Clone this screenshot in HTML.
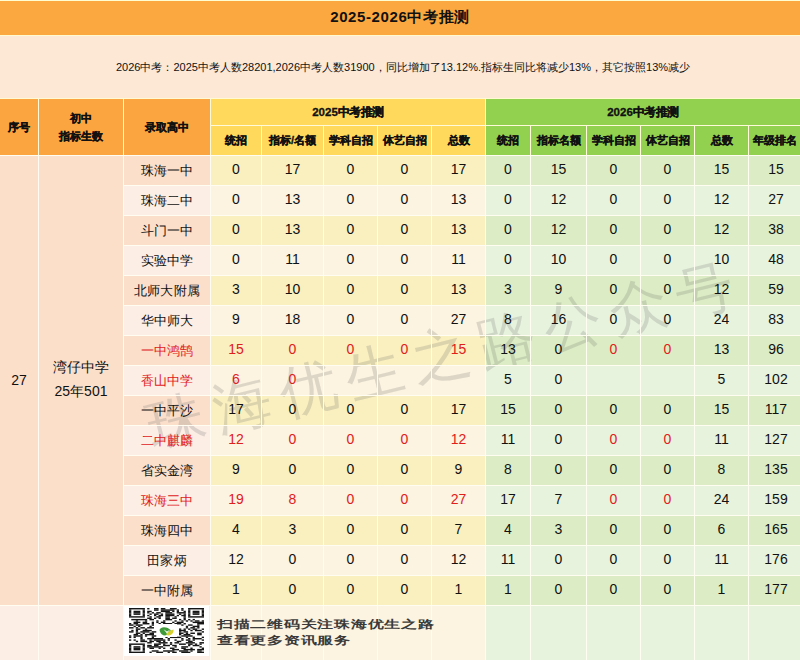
<!DOCTYPE html>
<html><head><meta charset="utf-8"><style>
html,body{margin:0;padding:0;}
body{width:800px;height:660px;position:relative;overflow:hidden;background:#FFFCF2;font-family:"Liberation Sans",sans-serif;color:#111;}
.b{position:absolute;}
.t{position:absolute;text-align:center;white-space:nowrap;z-index:3;}
.c{display:inline-block;width:1em;text-align:center;letter-spacing:0;}
.qrt .c{width:11.55px;text-align:left;}
.wm .c{width:68px;}
.title .c{width:15.6px;text-align:left;}
.ln{position:absolute;background:#FFFCF2;z-index:2;}
.title{font-size:15px;font-weight:bold;letter-spacing:0.6px;}
.subt{font-size:11px;line-height:22px;}
.h{font-size:11px;font-weight:bold;-webkit-text-stroke:0.3px #111;}
.d{font-size:14px;}
.qrt{font-size:11px;font-weight:bold;letter-spacing:0;color:#3a3a3a;transform:scaleX(1.45);transform-origin:0 0;}
.wm{position:absolute;left:440px;top:356px;font-size:58px;line-height:58px;letter-spacing:0;color:rgba(90,90,90,0.19);font-weight:500;z-index:1;white-space:nowrap;transform:translate(-50%,-50%) rotate(-13.9deg);}
</style></head><body>
<div class="b" style="left:0px;top:1px;width:800px;height:34px;background:#FBA840;"></div>
<div class="t title" style="left:0px;top:0px;width:800px;height:34px;line-height:34px;">2025-2026<span class="c">中</span><span class="c">考</span><span class="c">推</span><span class="c">测</span></div>
<div class="b" style="left:0px;top:36px;width:800px;height:62px;background:#FCE8D5;"></div>
<div class="t subt" style="left:3px;top:56px;width:800px;height:22px;line-height:22px;">2026<span class="c">中</span><span class="c">考</span><span class="c">：</span>2025<span class="c">中</span><span class="c">考</span><span class="c">人</span><span class="c">数</span>28201,2026<span class="c">中</span><span class="c">考</span><span class="c">人</span><span class="c">数</span>31900<span class="c">，</span><span class="c">同</span><span class="c">比</span><span class="c">增</span><span class="c">加</span><span class="c">了</span>13.12%.<span class="c">指</span><span class="c">标</span><span class="c">生</span><span class="c">同</span><span class="c">比</span><span class="c">将</span><span class="c">减</span><span class="c">少</span>13%<span class="c">，</span><span class="c">其</span><span class="c">它</span><span class="c">按</span><span class="c">照</span>13%<span class="c">减</span><span class="c">少</span></div>
<div class="b" style="left:0px;top:99px;width:38px;height:56px;background:#FBA540;"></div>
<div class="b" style="left:39px;top:99px;width:84px;height:56px;background:#FBA540;"></div>
<div class="b" style="left:124px;top:99px;width:86px;height:56px;background:#FBA540;"></div>
<div class="b" style="left:211px;top:99px;width:274px;height:26px;background:#FFD95C;"></div>
<div class="b" style="left:486px;top:99px;width:314px;height:26px;background:#92D050;"></div>
<div class="t h" style="left:211px;top:99px;width:274px;height:26px;line-height:26px;letter-spacing:0px;font-size:11.5px;">2025<span class="c">中</span><span class="c">考</span><span class="c">推</span><span class="c">测</span></div>
<div class="t h" style="left:486px;top:99px;width:314px;height:26px;line-height:26px;letter-spacing:0px;font-size:11.5px;">2026<span class="c">中</span><span class="c">考</span><span class="c">推</span><span class="c">测</span></div>
<div class="t h" style="left:0px;top:99px;width:38px;height:56px;line-height:56px;"><span class="c">序</span><span class="c">号</span></div>
<div class="t h" style="left:39px;top:109px;width:84px;line-height:18px;"><span class="c">初</span><span class="c">中</span><br><span class="c">指</span><span class="c">标</span><span class="c">生</span><span class="c">数</span></div>
<div class="t h" style="left:124px;top:99px;width:86px;height:56px;line-height:56px;"><span class="c">录</span><span class="c">取</span><span class="c">高</span><span class="c">中</span></div>
<div class="b" style="left:211px;top:126px;width:50px;height:29px;background:#FFD95C;"></div>
<div class="t h" style="left:211px;top:126px;width:50px;height:29px;line-height:29px;"><span class="c">统</span><span class="c">招</span></div>
<div class="b" style="left:262px;top:126px;width:61px;height:29px;background:#FFD95C;"></div>
<div class="t h" style="left:262px;top:126px;width:61px;height:29px;line-height:29px;"><span class="c">指</span><span class="c">标</span>/<span class="c">名</span><span class="c">额</span></div>
<div class="b" style="left:324px;top:126px;width:53px;height:29px;background:#FFD95C;"></div>
<div class="t h" style="left:324px;top:126px;width:53px;height:29px;line-height:29px;"><span class="c">学</span><span class="c">科</span><span class="c">自</span><span class="c">招</span></div>
<div class="b" style="left:378px;top:126px;width:53px;height:29px;background:#FFD95C;"></div>
<div class="t h" style="left:378px;top:126px;width:53px;height:29px;line-height:29px;"><span class="c">体</span><span class="c">艺</span><span class="c">自</span><span class="c">招</span></div>
<div class="b" style="left:432px;top:126px;width:53px;height:29px;background:#FFD95C;"></div>
<div class="t h" style="left:432px;top:126px;width:53px;height:29px;line-height:29px;"><span class="c">总</span><span class="c">数</span></div>
<div class="b" style="left:486px;top:126px;width:44px;height:29px;background:#92D050;"></div>
<div class="t h" style="left:486px;top:126px;width:44px;height:29px;line-height:29px;"><span class="c">统</span><span class="c">招</span></div>
<div class="b" style="left:531px;top:126px;width:55px;height:29px;background:#92D050;"></div>
<div class="t h" style="left:531px;top:126px;width:55px;height:29px;line-height:29px;"><span class="c">指</span><span class="c">标</span><span class="c">名</span><span class="c">额</span></div>
<div class="b" style="left:587px;top:126px;width:53px;height:29px;background:#92D050;"></div>
<div class="t h" style="left:587px;top:126px;width:53px;height:29px;line-height:29px;"><span class="c">学</span><span class="c">科</span><span class="c">自</span><span class="c">招</span></div>
<div class="b" style="left:641px;top:126px;width:53px;height:29px;background:#92D050;"></div>
<div class="t h" style="left:641px;top:126px;width:53px;height:29px;line-height:29px;"><span class="c">体</span><span class="c">艺</span><span class="c">自</span><span class="c">招</span></div>
<div class="b" style="left:695px;top:126px;width:53px;height:29px;background:#92D050;"></div>
<div class="t h" style="left:695px;top:126px;width:53px;height:29px;line-height:29px;"><span class="c">总</span><span class="c">数</span></div>
<div class="b" style="left:749px;top:126px;width:51px;height:29px;background:#92D050;"></div>
<div class="t h" style="left:749px;top:126px;width:51px;height:29px;line-height:29px;"><span class="c">年</span><span class="c">级</span><span class="c">排</span><span class="c">名</span></div>
<div class="b" style="left:0px;top:156px;width:38px;height:449px;background:#FBDFC9;"></div>
<div class="b" style="left:39px;top:156px;width:84px;height:449px;background:#FBDFC9;"></div>
<div class="t d" style="left:0px;top:156px;width:38px;height:449px;line-height:449px;">27</div>
<div class="t d" style="left:39px;top:355px;width:84px;line-height:24px;"><span class="c">湾</span><span class="c">仔</span><span class="c">中</span><span class="c">学</span><br>25<span class="c">年</span>501</div>
<div class="b" style="left:124px;top:156px;width:86px;height:29px;background:#FBDFCB;"></div>
<div class="t d" style="left:124px;top:156px;width:86px;height:29px;line-height:29px;font-size:13.3px;"><span class="c">珠</span><span class="c">海</span><span class="c">一</span><span class="c">中</span></div>
<div class="b" style="left:211px;top:156px;width:50px;height:29px;background:#F9EFBF;"></div>
<div class="t d" style="left:211px;top:155px;width:50px;height:29px;line-height:29px;">0</div>
<div class="b" style="left:262px;top:156px;width:61px;height:29px;background:#F9EFBF;"></div>
<div class="t d" style="left:262px;top:155px;width:61px;height:29px;line-height:29px;">17</div>
<div class="b" style="left:324px;top:156px;width:53px;height:29px;background:#F9EFBF;"></div>
<div class="t d" style="left:324px;top:155px;width:53px;height:29px;line-height:29px;">0</div>
<div class="b" style="left:378px;top:156px;width:53px;height:29px;background:#F9EFBF;"></div>
<div class="t d" style="left:378px;top:155px;width:53px;height:29px;line-height:29px;">0</div>
<div class="b" style="left:432px;top:156px;width:53px;height:29px;background:#F9EFBF;"></div>
<div class="t d" style="left:432px;top:155px;width:53px;height:29px;line-height:29px;">17</div>
<div class="b" style="left:486px;top:156px;width:44px;height:29px;background:#DCEDC5;"></div>
<div class="t d" style="left:486px;top:155px;width:44px;height:29px;line-height:29px;">0</div>
<div class="b" style="left:531px;top:156px;width:55px;height:29px;background:#DCEDC5;"></div>
<div class="t d" style="left:531px;top:155px;width:55px;height:29px;line-height:29px;">15</div>
<div class="b" style="left:587px;top:156px;width:53px;height:29px;background:#DCEDC5;"></div>
<div class="t d" style="left:587px;top:155px;width:53px;height:29px;line-height:29px;">0</div>
<div class="b" style="left:641px;top:156px;width:53px;height:29px;background:#DCEDC5;"></div>
<div class="t d" style="left:641px;top:155px;width:53px;height:29px;line-height:29px;">0</div>
<div class="b" style="left:695px;top:156px;width:53px;height:29px;background:#DCEDC5;"></div>
<div class="t d" style="left:695px;top:155px;width:53px;height:29px;line-height:29px;">15</div>
<div class="b" style="left:749px;top:156px;width:51px;height:29px;background:#DCEDC5;"></div>
<div class="t d" style="left:749px;top:155px;width:54px;height:29px;line-height:29px;">15</div>
<div class="b" style="left:124px;top:186px;width:86px;height:29px;background:#FCEEE5;"></div>
<div class="t d" style="left:124px;top:186px;width:86px;height:29px;line-height:29px;font-size:13.3px;"><span class="c">珠</span><span class="c">海</span><span class="c">二</span><span class="c">中</span></div>
<div class="b" style="left:211px;top:186px;width:50px;height:29px;background:#FCF3E0;"></div>
<div class="t d" style="left:211px;top:185px;width:50px;height:29px;line-height:29px;">0</div>
<div class="b" style="left:262px;top:186px;width:61px;height:29px;background:#FCF3E0;"></div>
<div class="t d" style="left:262px;top:185px;width:61px;height:29px;line-height:29px;">13</div>
<div class="b" style="left:324px;top:186px;width:53px;height:29px;background:#FCF3E0;"></div>
<div class="t d" style="left:324px;top:185px;width:53px;height:29px;line-height:29px;">0</div>
<div class="b" style="left:378px;top:186px;width:53px;height:29px;background:#FCF3E0;"></div>
<div class="t d" style="left:378px;top:185px;width:53px;height:29px;line-height:29px;">0</div>
<div class="b" style="left:432px;top:186px;width:53px;height:29px;background:#FCF3E0;"></div>
<div class="t d" style="left:432px;top:185px;width:53px;height:29px;line-height:29px;">13</div>
<div class="b" style="left:486px;top:186px;width:44px;height:29px;background:#E8F3DE;"></div>
<div class="t d" style="left:486px;top:185px;width:44px;height:29px;line-height:29px;">0</div>
<div class="b" style="left:531px;top:186px;width:55px;height:29px;background:#E8F3DE;"></div>
<div class="t d" style="left:531px;top:185px;width:55px;height:29px;line-height:29px;">12</div>
<div class="b" style="left:587px;top:186px;width:53px;height:29px;background:#E8F3DE;"></div>
<div class="t d" style="left:587px;top:185px;width:53px;height:29px;line-height:29px;">0</div>
<div class="b" style="left:641px;top:186px;width:53px;height:29px;background:#E8F3DE;"></div>
<div class="t d" style="left:641px;top:185px;width:53px;height:29px;line-height:29px;">0</div>
<div class="b" style="left:695px;top:186px;width:53px;height:29px;background:#E8F3DE;"></div>
<div class="t d" style="left:695px;top:185px;width:53px;height:29px;line-height:29px;">12</div>
<div class="b" style="left:749px;top:186px;width:51px;height:29px;background:#E8F3DE;"></div>
<div class="t d" style="left:749px;top:185px;width:54px;height:29px;line-height:29px;">27</div>
<div class="b" style="left:124px;top:216px;width:86px;height:29px;background:#FBDFCB;"></div>
<div class="t d" style="left:124px;top:216px;width:86px;height:29px;line-height:29px;font-size:13.3px;"><span class="c">斗</span><span class="c">门</span><span class="c">一</span><span class="c">中</span></div>
<div class="b" style="left:211px;top:216px;width:50px;height:29px;background:#F9EFBF;"></div>
<div class="t d" style="left:211px;top:215px;width:50px;height:29px;line-height:29px;">0</div>
<div class="b" style="left:262px;top:216px;width:61px;height:29px;background:#F9EFBF;"></div>
<div class="t d" style="left:262px;top:215px;width:61px;height:29px;line-height:29px;">13</div>
<div class="b" style="left:324px;top:216px;width:53px;height:29px;background:#F9EFBF;"></div>
<div class="t d" style="left:324px;top:215px;width:53px;height:29px;line-height:29px;">0</div>
<div class="b" style="left:378px;top:216px;width:53px;height:29px;background:#F9EFBF;"></div>
<div class="t d" style="left:378px;top:215px;width:53px;height:29px;line-height:29px;">0</div>
<div class="b" style="left:432px;top:216px;width:53px;height:29px;background:#F9EFBF;"></div>
<div class="t d" style="left:432px;top:215px;width:53px;height:29px;line-height:29px;">13</div>
<div class="b" style="left:486px;top:216px;width:44px;height:29px;background:#DCEDC5;"></div>
<div class="t d" style="left:486px;top:215px;width:44px;height:29px;line-height:29px;">0</div>
<div class="b" style="left:531px;top:216px;width:55px;height:29px;background:#DCEDC5;"></div>
<div class="t d" style="left:531px;top:215px;width:55px;height:29px;line-height:29px;">12</div>
<div class="b" style="left:587px;top:216px;width:53px;height:29px;background:#DCEDC5;"></div>
<div class="t d" style="left:587px;top:215px;width:53px;height:29px;line-height:29px;">0</div>
<div class="b" style="left:641px;top:216px;width:53px;height:29px;background:#DCEDC5;"></div>
<div class="t d" style="left:641px;top:215px;width:53px;height:29px;line-height:29px;">0</div>
<div class="b" style="left:695px;top:216px;width:53px;height:29px;background:#DCEDC5;"></div>
<div class="t d" style="left:695px;top:215px;width:53px;height:29px;line-height:29px;">12</div>
<div class="b" style="left:749px;top:216px;width:51px;height:29px;background:#DCEDC5;"></div>
<div class="t d" style="left:749px;top:215px;width:54px;height:29px;line-height:29px;">38</div>
<div class="b" style="left:124px;top:246px;width:86px;height:29px;background:#FCEEE5;"></div>
<div class="t d" style="left:124px;top:246px;width:86px;height:29px;line-height:29px;font-size:13.3px;"><span class="c">实</span><span class="c">验</span><span class="c">中</span><span class="c">学</span></div>
<div class="b" style="left:211px;top:246px;width:50px;height:29px;background:#FCF3E0;"></div>
<div class="t d" style="left:211px;top:245px;width:50px;height:29px;line-height:29px;">0</div>
<div class="b" style="left:262px;top:246px;width:61px;height:29px;background:#FCF3E0;"></div>
<div class="t d" style="left:262px;top:245px;width:61px;height:29px;line-height:29px;">11</div>
<div class="b" style="left:324px;top:246px;width:53px;height:29px;background:#FCF3E0;"></div>
<div class="t d" style="left:324px;top:245px;width:53px;height:29px;line-height:29px;">0</div>
<div class="b" style="left:378px;top:246px;width:53px;height:29px;background:#FCF3E0;"></div>
<div class="t d" style="left:378px;top:245px;width:53px;height:29px;line-height:29px;">0</div>
<div class="b" style="left:432px;top:246px;width:53px;height:29px;background:#FCF3E0;"></div>
<div class="t d" style="left:432px;top:245px;width:53px;height:29px;line-height:29px;">11</div>
<div class="b" style="left:486px;top:246px;width:44px;height:29px;background:#E8F3DE;"></div>
<div class="t d" style="left:486px;top:245px;width:44px;height:29px;line-height:29px;">0</div>
<div class="b" style="left:531px;top:246px;width:55px;height:29px;background:#E8F3DE;"></div>
<div class="t d" style="left:531px;top:245px;width:55px;height:29px;line-height:29px;">10</div>
<div class="b" style="left:587px;top:246px;width:53px;height:29px;background:#E8F3DE;"></div>
<div class="t d" style="left:587px;top:245px;width:53px;height:29px;line-height:29px;">0</div>
<div class="b" style="left:641px;top:246px;width:53px;height:29px;background:#E8F3DE;"></div>
<div class="t d" style="left:641px;top:245px;width:53px;height:29px;line-height:29px;">0</div>
<div class="b" style="left:695px;top:246px;width:53px;height:29px;background:#E8F3DE;"></div>
<div class="t d" style="left:695px;top:245px;width:53px;height:29px;line-height:29px;">10</div>
<div class="b" style="left:749px;top:246px;width:51px;height:29px;background:#E8F3DE;"></div>
<div class="t d" style="left:749px;top:245px;width:54px;height:29px;line-height:29px;">48</div>
<div class="b" style="left:124px;top:276px;width:86px;height:29px;background:#FBDFCB;"></div>
<div class="t d" style="left:124px;top:276px;width:86px;height:29px;line-height:29px;font-size:13.3px;"><span class="c">北</span><span class="c">师</span><span class="c">大</span><span class="c">附</span><span class="c">属</span></div>
<div class="b" style="left:211px;top:276px;width:50px;height:29px;background:#F9EFBF;"></div>
<div class="t d" style="left:211px;top:275px;width:50px;height:29px;line-height:29px;">3</div>
<div class="b" style="left:262px;top:276px;width:61px;height:29px;background:#F9EFBF;"></div>
<div class="t d" style="left:262px;top:275px;width:61px;height:29px;line-height:29px;">10</div>
<div class="b" style="left:324px;top:276px;width:53px;height:29px;background:#F9EFBF;"></div>
<div class="t d" style="left:324px;top:275px;width:53px;height:29px;line-height:29px;">0</div>
<div class="b" style="left:378px;top:276px;width:53px;height:29px;background:#F9EFBF;"></div>
<div class="t d" style="left:378px;top:275px;width:53px;height:29px;line-height:29px;">0</div>
<div class="b" style="left:432px;top:276px;width:53px;height:29px;background:#F9EFBF;"></div>
<div class="t d" style="left:432px;top:275px;width:53px;height:29px;line-height:29px;">13</div>
<div class="b" style="left:486px;top:276px;width:44px;height:29px;background:#DCEDC5;"></div>
<div class="t d" style="left:486px;top:275px;width:44px;height:29px;line-height:29px;">3</div>
<div class="b" style="left:531px;top:276px;width:55px;height:29px;background:#DCEDC5;"></div>
<div class="t d" style="left:531px;top:275px;width:55px;height:29px;line-height:29px;">9</div>
<div class="b" style="left:587px;top:276px;width:53px;height:29px;background:#DCEDC5;"></div>
<div class="t d" style="left:587px;top:275px;width:53px;height:29px;line-height:29px;">0</div>
<div class="b" style="left:641px;top:276px;width:53px;height:29px;background:#DCEDC5;"></div>
<div class="t d" style="left:641px;top:275px;width:53px;height:29px;line-height:29px;">0</div>
<div class="b" style="left:695px;top:276px;width:53px;height:29px;background:#DCEDC5;"></div>
<div class="t d" style="left:695px;top:275px;width:53px;height:29px;line-height:29px;">12</div>
<div class="b" style="left:749px;top:276px;width:51px;height:29px;background:#DCEDC5;"></div>
<div class="t d" style="left:749px;top:275px;width:54px;height:29px;line-height:29px;">59</div>
<div class="b" style="left:124px;top:306px;width:86px;height:29px;background:#FCEEE5;"></div>
<div class="t d" style="left:124px;top:306px;width:86px;height:29px;line-height:29px;font-size:13.3px;"><span class="c">华</span><span class="c">中</span><span class="c">师</span><span class="c">大</span></div>
<div class="b" style="left:211px;top:306px;width:50px;height:29px;background:#FCF3E0;"></div>
<div class="t d" style="left:211px;top:305px;width:50px;height:29px;line-height:29px;">9</div>
<div class="b" style="left:262px;top:306px;width:61px;height:29px;background:#FCF3E0;"></div>
<div class="t d" style="left:262px;top:305px;width:61px;height:29px;line-height:29px;">18</div>
<div class="b" style="left:324px;top:306px;width:53px;height:29px;background:#FCF3E0;"></div>
<div class="t d" style="left:324px;top:305px;width:53px;height:29px;line-height:29px;">0</div>
<div class="b" style="left:378px;top:306px;width:53px;height:29px;background:#FCF3E0;"></div>
<div class="t d" style="left:378px;top:305px;width:53px;height:29px;line-height:29px;">0</div>
<div class="b" style="left:432px;top:306px;width:53px;height:29px;background:#FCF3E0;"></div>
<div class="t d" style="left:432px;top:305px;width:53px;height:29px;line-height:29px;">27</div>
<div class="b" style="left:486px;top:306px;width:44px;height:29px;background:#E8F3DE;"></div>
<div class="t d" style="left:486px;top:305px;width:44px;height:29px;line-height:29px;">8</div>
<div class="b" style="left:531px;top:306px;width:55px;height:29px;background:#E8F3DE;"></div>
<div class="t d" style="left:531px;top:305px;width:55px;height:29px;line-height:29px;">16</div>
<div class="b" style="left:587px;top:306px;width:53px;height:29px;background:#E8F3DE;"></div>
<div class="t d" style="left:587px;top:305px;width:53px;height:29px;line-height:29px;">0</div>
<div class="b" style="left:641px;top:306px;width:53px;height:29px;background:#E8F3DE;"></div>
<div class="t d" style="left:641px;top:305px;width:53px;height:29px;line-height:29px;">0</div>
<div class="b" style="left:695px;top:306px;width:53px;height:29px;background:#E8F3DE;"></div>
<div class="t d" style="left:695px;top:305px;width:53px;height:29px;line-height:29px;">24</div>
<div class="b" style="left:749px;top:306px;width:51px;height:29px;background:#E8F3DE;"></div>
<div class="t d" style="left:749px;top:305px;width:54px;height:29px;line-height:29px;">83</div>
<div class="b" style="left:124px;top:336px;width:86px;height:29px;background:#FBDFCB;"></div>
<div class="t d" style="left:124px;top:336px;width:86px;height:29px;line-height:29px;color:#E0201B;font-size:13.3px;"><span class="c">一</span><span class="c">中</span><span class="c">鸿</span><span class="c">鹄</span></div>
<div class="b" style="left:211px;top:336px;width:50px;height:29px;background:#F9EFBF;"></div>
<div class="t d" style="left:211px;top:335px;width:50px;height:29px;line-height:29px;color:#E0201B;">15</div>
<div class="b" style="left:262px;top:336px;width:61px;height:29px;background:#F9EFBF;"></div>
<div class="t d" style="left:262px;top:335px;width:61px;height:29px;line-height:29px;color:#E0201B;">0</div>
<div class="b" style="left:324px;top:336px;width:53px;height:29px;background:#F9EFBF;"></div>
<div class="t d" style="left:324px;top:335px;width:53px;height:29px;line-height:29px;color:#E0201B;">0</div>
<div class="b" style="left:378px;top:336px;width:53px;height:29px;background:#F9EFBF;"></div>
<div class="t d" style="left:378px;top:335px;width:53px;height:29px;line-height:29px;color:#E0201B;">0</div>
<div class="b" style="left:432px;top:336px;width:53px;height:29px;background:#F9EFBF;"></div>
<div class="t d" style="left:432px;top:335px;width:53px;height:29px;line-height:29px;color:#E0201B;">15</div>
<div class="b" style="left:486px;top:336px;width:44px;height:29px;background:#DCEDC5;"></div>
<div class="t d" style="left:486px;top:335px;width:44px;height:29px;line-height:29px;">13</div>
<div class="b" style="left:531px;top:336px;width:55px;height:29px;background:#DCEDC5;"></div>
<div class="t d" style="left:531px;top:335px;width:55px;height:29px;line-height:29px;">0</div>
<div class="b" style="left:587px;top:336px;width:53px;height:29px;background:#DCEDC5;"></div>
<div class="t d" style="left:587px;top:335px;width:53px;height:29px;line-height:29px;color:#E0201B;">0</div>
<div class="b" style="left:641px;top:336px;width:53px;height:29px;background:#DCEDC5;"></div>
<div class="t d" style="left:641px;top:335px;width:53px;height:29px;line-height:29px;color:#E0201B;">0</div>
<div class="b" style="left:695px;top:336px;width:53px;height:29px;background:#DCEDC5;"></div>
<div class="t d" style="left:695px;top:335px;width:53px;height:29px;line-height:29px;">13</div>
<div class="b" style="left:749px;top:336px;width:51px;height:29px;background:#DCEDC5;"></div>
<div class="t d" style="left:749px;top:335px;width:54px;height:29px;line-height:29px;">96</div>
<div class="b" style="left:124px;top:366px;width:86px;height:29px;background:#FCEEE5;"></div>
<div class="t d" style="left:124px;top:366px;width:86px;height:29px;line-height:29px;color:#E0201B;font-size:13.3px;"><span class="c">香</span><span class="c">山</span><span class="c">中</span><span class="c">学</span></div>
<div class="b" style="left:211px;top:366px;width:50px;height:29px;background:#FCF3E0;"></div>
<div class="t d" style="left:211px;top:365px;width:50px;height:29px;line-height:29px;color:#E0201B;">6</div>
<div class="b" style="left:262px;top:366px;width:61px;height:29px;background:#FCF3E0;"></div>
<div class="t d" style="left:262px;top:365px;width:61px;height:29px;line-height:29px;color:#E0201B;">0</div>
<div class="b" style="left:324px;top:366px;width:53px;height:29px;background:#FCF3E0;"></div>
<div class="b" style="left:378px;top:366px;width:53px;height:29px;background:#FCF3E0;"></div>
<div class="b" style="left:432px;top:366px;width:53px;height:29px;background:#FCF3E0;"></div>
<div class="b" style="left:486px;top:366px;width:44px;height:29px;background:#E8F3DE;"></div>
<div class="t d" style="left:486px;top:365px;width:44px;height:29px;line-height:29px;">5</div>
<div class="b" style="left:531px;top:366px;width:55px;height:29px;background:#E8F3DE;"></div>
<div class="t d" style="left:531px;top:365px;width:55px;height:29px;line-height:29px;">0</div>
<div class="b" style="left:587px;top:366px;width:53px;height:29px;background:#E8F3DE;"></div>
<div class="b" style="left:641px;top:366px;width:53px;height:29px;background:#E8F3DE;"></div>
<div class="b" style="left:695px;top:366px;width:53px;height:29px;background:#E8F3DE;"></div>
<div class="t d" style="left:695px;top:365px;width:53px;height:29px;line-height:29px;">5</div>
<div class="b" style="left:749px;top:366px;width:51px;height:29px;background:#E8F3DE;"></div>
<div class="t d" style="left:749px;top:365px;width:54px;height:29px;line-height:29px;">102</div>
<div class="b" style="left:124px;top:396px;width:86px;height:29px;background:#FBDFCB;"></div>
<div class="t d" style="left:124px;top:396px;width:86px;height:29px;line-height:29px;font-size:13.3px;"><span class="c">一</span><span class="c">中</span><span class="c">平</span><span class="c">沙</span></div>
<div class="b" style="left:211px;top:396px;width:50px;height:29px;background:#F9EFBF;"></div>
<div class="t d" style="left:211px;top:395px;width:50px;height:29px;line-height:29px;">17</div>
<div class="b" style="left:262px;top:396px;width:61px;height:29px;background:#F9EFBF;"></div>
<div class="t d" style="left:262px;top:395px;width:61px;height:29px;line-height:29px;">0</div>
<div class="b" style="left:324px;top:396px;width:53px;height:29px;background:#F9EFBF;"></div>
<div class="t d" style="left:324px;top:395px;width:53px;height:29px;line-height:29px;">0</div>
<div class="b" style="left:378px;top:396px;width:53px;height:29px;background:#F9EFBF;"></div>
<div class="t d" style="left:378px;top:395px;width:53px;height:29px;line-height:29px;">0</div>
<div class="b" style="left:432px;top:396px;width:53px;height:29px;background:#F9EFBF;"></div>
<div class="t d" style="left:432px;top:395px;width:53px;height:29px;line-height:29px;">17</div>
<div class="b" style="left:486px;top:396px;width:44px;height:29px;background:#DCEDC5;"></div>
<div class="t d" style="left:486px;top:395px;width:44px;height:29px;line-height:29px;">15</div>
<div class="b" style="left:531px;top:396px;width:55px;height:29px;background:#DCEDC5;"></div>
<div class="t d" style="left:531px;top:395px;width:55px;height:29px;line-height:29px;">0</div>
<div class="b" style="left:587px;top:396px;width:53px;height:29px;background:#DCEDC5;"></div>
<div class="t d" style="left:587px;top:395px;width:53px;height:29px;line-height:29px;">0</div>
<div class="b" style="left:641px;top:396px;width:53px;height:29px;background:#DCEDC5;"></div>
<div class="t d" style="left:641px;top:395px;width:53px;height:29px;line-height:29px;">0</div>
<div class="b" style="left:695px;top:396px;width:53px;height:29px;background:#DCEDC5;"></div>
<div class="t d" style="left:695px;top:395px;width:53px;height:29px;line-height:29px;">15</div>
<div class="b" style="left:749px;top:396px;width:51px;height:29px;background:#DCEDC5;"></div>
<div class="t d" style="left:749px;top:395px;width:54px;height:29px;line-height:29px;">117</div>
<div class="b" style="left:124px;top:426px;width:86px;height:29px;background:#FCEEE5;"></div>
<div class="t d" style="left:124px;top:426px;width:86px;height:29px;line-height:29px;color:#E0201B;font-size:13.3px;"><span class="c">二</span><span class="c">中</span><span class="c">麒</span><span class="c">麟</span></div>
<div class="b" style="left:211px;top:426px;width:50px;height:29px;background:#FCF3E0;"></div>
<div class="t d" style="left:211px;top:425px;width:50px;height:29px;line-height:29px;color:#E0201B;">12</div>
<div class="b" style="left:262px;top:426px;width:61px;height:29px;background:#FCF3E0;"></div>
<div class="t d" style="left:262px;top:425px;width:61px;height:29px;line-height:29px;color:#E0201B;">0</div>
<div class="b" style="left:324px;top:426px;width:53px;height:29px;background:#FCF3E0;"></div>
<div class="t d" style="left:324px;top:425px;width:53px;height:29px;line-height:29px;color:#E0201B;">0</div>
<div class="b" style="left:378px;top:426px;width:53px;height:29px;background:#FCF3E0;"></div>
<div class="t d" style="left:378px;top:425px;width:53px;height:29px;line-height:29px;color:#E0201B;">0</div>
<div class="b" style="left:432px;top:426px;width:53px;height:29px;background:#FCF3E0;"></div>
<div class="t d" style="left:432px;top:425px;width:53px;height:29px;line-height:29px;color:#E0201B;">12</div>
<div class="b" style="left:486px;top:426px;width:44px;height:29px;background:#E8F3DE;"></div>
<div class="t d" style="left:486px;top:425px;width:44px;height:29px;line-height:29px;">11</div>
<div class="b" style="left:531px;top:426px;width:55px;height:29px;background:#E8F3DE;"></div>
<div class="t d" style="left:531px;top:425px;width:55px;height:29px;line-height:29px;">0</div>
<div class="b" style="left:587px;top:426px;width:53px;height:29px;background:#E8F3DE;"></div>
<div class="t d" style="left:587px;top:425px;width:53px;height:29px;line-height:29px;color:#E0201B;">0</div>
<div class="b" style="left:641px;top:426px;width:53px;height:29px;background:#E8F3DE;"></div>
<div class="t d" style="left:641px;top:425px;width:53px;height:29px;line-height:29px;color:#E0201B;">0</div>
<div class="b" style="left:695px;top:426px;width:53px;height:29px;background:#E8F3DE;"></div>
<div class="t d" style="left:695px;top:425px;width:53px;height:29px;line-height:29px;">11</div>
<div class="b" style="left:749px;top:426px;width:51px;height:29px;background:#E8F3DE;"></div>
<div class="t d" style="left:749px;top:425px;width:54px;height:29px;line-height:29px;">127</div>
<div class="b" style="left:124px;top:456px;width:86px;height:29px;background:#FBDFCB;"></div>
<div class="t d" style="left:124px;top:456px;width:86px;height:29px;line-height:29px;font-size:13.3px;"><span class="c">省</span><span class="c">实</span><span class="c">金</span><span class="c">湾</span></div>
<div class="b" style="left:211px;top:456px;width:50px;height:29px;background:#F9EFBF;"></div>
<div class="t d" style="left:211px;top:455px;width:50px;height:29px;line-height:29px;">9</div>
<div class="b" style="left:262px;top:456px;width:61px;height:29px;background:#F9EFBF;"></div>
<div class="t d" style="left:262px;top:455px;width:61px;height:29px;line-height:29px;">0</div>
<div class="b" style="left:324px;top:456px;width:53px;height:29px;background:#F9EFBF;"></div>
<div class="t d" style="left:324px;top:455px;width:53px;height:29px;line-height:29px;">0</div>
<div class="b" style="left:378px;top:456px;width:53px;height:29px;background:#F9EFBF;"></div>
<div class="t d" style="left:378px;top:455px;width:53px;height:29px;line-height:29px;">0</div>
<div class="b" style="left:432px;top:456px;width:53px;height:29px;background:#F9EFBF;"></div>
<div class="t d" style="left:432px;top:455px;width:53px;height:29px;line-height:29px;">9</div>
<div class="b" style="left:486px;top:456px;width:44px;height:29px;background:#DCEDC5;"></div>
<div class="t d" style="left:486px;top:455px;width:44px;height:29px;line-height:29px;">8</div>
<div class="b" style="left:531px;top:456px;width:55px;height:29px;background:#DCEDC5;"></div>
<div class="t d" style="left:531px;top:455px;width:55px;height:29px;line-height:29px;">0</div>
<div class="b" style="left:587px;top:456px;width:53px;height:29px;background:#DCEDC5;"></div>
<div class="t d" style="left:587px;top:455px;width:53px;height:29px;line-height:29px;">0</div>
<div class="b" style="left:641px;top:456px;width:53px;height:29px;background:#DCEDC5;"></div>
<div class="t d" style="left:641px;top:455px;width:53px;height:29px;line-height:29px;">0</div>
<div class="b" style="left:695px;top:456px;width:53px;height:29px;background:#DCEDC5;"></div>
<div class="t d" style="left:695px;top:455px;width:53px;height:29px;line-height:29px;">8</div>
<div class="b" style="left:749px;top:456px;width:51px;height:29px;background:#DCEDC5;"></div>
<div class="t d" style="left:749px;top:455px;width:54px;height:29px;line-height:29px;">135</div>
<div class="b" style="left:124px;top:486px;width:86px;height:29px;background:#FCEEE5;"></div>
<div class="t d" style="left:124px;top:486px;width:86px;height:29px;line-height:29px;color:#E0201B;font-size:13.3px;"><span class="c">珠</span><span class="c">海</span><span class="c">三</span><span class="c">中</span></div>
<div class="b" style="left:211px;top:486px;width:50px;height:29px;background:#FCF3E0;"></div>
<div class="t d" style="left:211px;top:485px;width:50px;height:29px;line-height:29px;color:#E0201B;">19</div>
<div class="b" style="left:262px;top:486px;width:61px;height:29px;background:#FCF3E0;"></div>
<div class="t d" style="left:262px;top:485px;width:61px;height:29px;line-height:29px;color:#E0201B;">8</div>
<div class="b" style="left:324px;top:486px;width:53px;height:29px;background:#FCF3E0;"></div>
<div class="t d" style="left:324px;top:485px;width:53px;height:29px;line-height:29px;color:#E0201B;">0</div>
<div class="b" style="left:378px;top:486px;width:53px;height:29px;background:#FCF3E0;"></div>
<div class="t d" style="left:378px;top:485px;width:53px;height:29px;line-height:29px;color:#E0201B;">0</div>
<div class="b" style="left:432px;top:486px;width:53px;height:29px;background:#FCF3E0;"></div>
<div class="t d" style="left:432px;top:485px;width:53px;height:29px;line-height:29px;color:#E0201B;">27</div>
<div class="b" style="left:486px;top:486px;width:44px;height:29px;background:#E8F3DE;"></div>
<div class="t d" style="left:486px;top:485px;width:44px;height:29px;line-height:29px;">17</div>
<div class="b" style="left:531px;top:486px;width:55px;height:29px;background:#E8F3DE;"></div>
<div class="t d" style="left:531px;top:485px;width:55px;height:29px;line-height:29px;">7</div>
<div class="b" style="left:587px;top:486px;width:53px;height:29px;background:#E8F3DE;"></div>
<div class="t d" style="left:587px;top:485px;width:53px;height:29px;line-height:29px;color:#E0201B;">0</div>
<div class="b" style="left:641px;top:486px;width:53px;height:29px;background:#E8F3DE;"></div>
<div class="t d" style="left:641px;top:485px;width:53px;height:29px;line-height:29px;color:#E0201B;">0</div>
<div class="b" style="left:695px;top:486px;width:53px;height:29px;background:#E8F3DE;"></div>
<div class="t d" style="left:695px;top:485px;width:53px;height:29px;line-height:29px;">24</div>
<div class="b" style="left:749px;top:486px;width:51px;height:29px;background:#E8F3DE;"></div>
<div class="t d" style="left:749px;top:485px;width:54px;height:29px;line-height:29px;">159</div>
<div class="b" style="left:124px;top:516px;width:86px;height:29px;background:#FBDFCB;"></div>
<div class="t d" style="left:124px;top:516px;width:86px;height:29px;line-height:29px;font-size:13.3px;"><span class="c">珠</span><span class="c">海</span><span class="c">四</span><span class="c">中</span></div>
<div class="b" style="left:211px;top:516px;width:50px;height:29px;background:#F9EFBF;"></div>
<div class="t d" style="left:211px;top:515px;width:50px;height:29px;line-height:29px;">4</div>
<div class="b" style="left:262px;top:516px;width:61px;height:29px;background:#F9EFBF;"></div>
<div class="t d" style="left:262px;top:515px;width:61px;height:29px;line-height:29px;">3</div>
<div class="b" style="left:324px;top:516px;width:53px;height:29px;background:#F9EFBF;"></div>
<div class="t d" style="left:324px;top:515px;width:53px;height:29px;line-height:29px;">0</div>
<div class="b" style="left:378px;top:516px;width:53px;height:29px;background:#F9EFBF;"></div>
<div class="t d" style="left:378px;top:515px;width:53px;height:29px;line-height:29px;">0</div>
<div class="b" style="left:432px;top:516px;width:53px;height:29px;background:#F9EFBF;"></div>
<div class="t d" style="left:432px;top:515px;width:53px;height:29px;line-height:29px;">7</div>
<div class="b" style="left:486px;top:516px;width:44px;height:29px;background:#DCEDC5;"></div>
<div class="t d" style="left:486px;top:515px;width:44px;height:29px;line-height:29px;">4</div>
<div class="b" style="left:531px;top:516px;width:55px;height:29px;background:#DCEDC5;"></div>
<div class="t d" style="left:531px;top:515px;width:55px;height:29px;line-height:29px;">3</div>
<div class="b" style="left:587px;top:516px;width:53px;height:29px;background:#DCEDC5;"></div>
<div class="t d" style="left:587px;top:515px;width:53px;height:29px;line-height:29px;">0</div>
<div class="b" style="left:641px;top:516px;width:53px;height:29px;background:#DCEDC5;"></div>
<div class="t d" style="left:641px;top:515px;width:53px;height:29px;line-height:29px;">0</div>
<div class="b" style="left:695px;top:516px;width:53px;height:29px;background:#DCEDC5;"></div>
<div class="t d" style="left:695px;top:515px;width:53px;height:29px;line-height:29px;">6</div>
<div class="b" style="left:749px;top:516px;width:51px;height:29px;background:#DCEDC5;"></div>
<div class="t d" style="left:749px;top:515px;width:54px;height:29px;line-height:29px;">165</div>
<div class="b" style="left:124px;top:546px;width:86px;height:29px;background:#FCEEE5;"></div>
<div class="t d" style="left:124px;top:546px;width:86px;height:29px;line-height:29px;font-size:13.3px;"><span class="c">田</span><span class="c">家</span><span class="c">炳</span></div>
<div class="b" style="left:211px;top:546px;width:50px;height:29px;background:#FCF3E0;"></div>
<div class="t d" style="left:211px;top:545px;width:50px;height:29px;line-height:29px;">12</div>
<div class="b" style="left:262px;top:546px;width:61px;height:29px;background:#FCF3E0;"></div>
<div class="t d" style="left:262px;top:545px;width:61px;height:29px;line-height:29px;">0</div>
<div class="b" style="left:324px;top:546px;width:53px;height:29px;background:#FCF3E0;"></div>
<div class="t d" style="left:324px;top:545px;width:53px;height:29px;line-height:29px;">0</div>
<div class="b" style="left:378px;top:546px;width:53px;height:29px;background:#FCF3E0;"></div>
<div class="t d" style="left:378px;top:545px;width:53px;height:29px;line-height:29px;">0</div>
<div class="b" style="left:432px;top:546px;width:53px;height:29px;background:#FCF3E0;"></div>
<div class="t d" style="left:432px;top:545px;width:53px;height:29px;line-height:29px;">12</div>
<div class="b" style="left:486px;top:546px;width:44px;height:29px;background:#E8F3DE;"></div>
<div class="t d" style="left:486px;top:545px;width:44px;height:29px;line-height:29px;">11</div>
<div class="b" style="left:531px;top:546px;width:55px;height:29px;background:#E8F3DE;"></div>
<div class="t d" style="left:531px;top:545px;width:55px;height:29px;line-height:29px;">0</div>
<div class="b" style="left:587px;top:546px;width:53px;height:29px;background:#E8F3DE;"></div>
<div class="t d" style="left:587px;top:545px;width:53px;height:29px;line-height:29px;">0</div>
<div class="b" style="left:641px;top:546px;width:53px;height:29px;background:#E8F3DE;"></div>
<div class="t d" style="left:641px;top:545px;width:53px;height:29px;line-height:29px;">0</div>
<div class="b" style="left:695px;top:546px;width:53px;height:29px;background:#E8F3DE;"></div>
<div class="t d" style="left:695px;top:545px;width:53px;height:29px;line-height:29px;">11</div>
<div class="b" style="left:749px;top:546px;width:51px;height:29px;background:#E8F3DE;"></div>
<div class="t d" style="left:749px;top:545px;width:54px;height:29px;line-height:29px;">176</div>
<div class="b" style="left:124px;top:576px;width:86px;height:29px;background:#FBDFCB;"></div>
<div class="t d" style="left:124px;top:576px;width:86px;height:29px;line-height:29px;font-size:13.3px;"><span class="c">一</span><span class="c">中</span><span class="c">附</span><span class="c">属</span></div>
<div class="b" style="left:211px;top:576px;width:50px;height:29px;background:#F9EFBF;"></div>
<div class="t d" style="left:211px;top:575px;width:50px;height:29px;line-height:29px;">1</div>
<div class="b" style="left:262px;top:576px;width:61px;height:29px;background:#F9EFBF;"></div>
<div class="t d" style="left:262px;top:575px;width:61px;height:29px;line-height:29px;">0</div>
<div class="b" style="left:324px;top:576px;width:53px;height:29px;background:#F9EFBF;"></div>
<div class="t d" style="left:324px;top:575px;width:53px;height:29px;line-height:29px;">0</div>
<div class="b" style="left:378px;top:576px;width:53px;height:29px;background:#F9EFBF;"></div>
<div class="t d" style="left:378px;top:575px;width:53px;height:29px;line-height:29px;">0</div>
<div class="b" style="left:432px;top:576px;width:53px;height:29px;background:#F9EFBF;"></div>
<div class="t d" style="left:432px;top:575px;width:53px;height:29px;line-height:29px;">1</div>
<div class="b" style="left:486px;top:576px;width:44px;height:29px;background:#DCEDC5;"></div>
<div class="t d" style="left:486px;top:575px;width:44px;height:29px;line-height:29px;">1</div>
<div class="b" style="left:531px;top:576px;width:55px;height:29px;background:#DCEDC5;"></div>
<div class="t d" style="left:531px;top:575px;width:55px;height:29px;line-height:29px;">0</div>
<div class="b" style="left:587px;top:576px;width:53px;height:29px;background:#DCEDC5;"></div>
<div class="t d" style="left:587px;top:575px;width:53px;height:29px;line-height:29px;">0</div>
<div class="b" style="left:641px;top:576px;width:53px;height:29px;background:#DCEDC5;"></div>
<div class="t d" style="left:641px;top:575px;width:53px;height:29px;line-height:29px;">0</div>
<div class="b" style="left:695px;top:576px;width:53px;height:29px;background:#DCEDC5;"></div>
<div class="t d" style="left:695px;top:575px;width:53px;height:29px;line-height:29px;">1</div>
<div class="b" style="left:749px;top:576px;width:51px;height:29px;background:#DCEDC5;"></div>
<div class="t d" style="left:749px;top:575px;width:54px;height:29px;line-height:29px;">177</div>
<div class="b" style="left:0px;top:606px;width:38px;height:54px;background:#FCEEE4;"></div>
<div class="b" style="left:39px;top:606px;width:84px;height:54px;background:#FCEEE4;"></div>
<div class="b" style="left:124px;top:606px;width:86px;height:54px;background:#FCEEE4;"></div>
<div class="b" style="left:211px;top:606px;width:50px;height:54px;background:#FCF3E0;"></div>
<div class="b" style="left:262px;top:606px;width:61px;height:54px;background:#FCF3E0;"></div>
<div class="b" style="left:324px;top:606px;width:53px;height:54px;background:#FCF3E0;"></div>
<div class="b" style="left:378px;top:606px;width:53px;height:54px;background:#FCF3E0;"></div>
<div class="b" style="left:432px;top:606px;width:53px;height:54px;background:#FCF3E0;"></div>
<div class="b" style="left:486px;top:606px;width:44px;height:54px;background:#E8F3DE;"></div>
<div class="b" style="left:531px;top:606px;width:55px;height:54px;background:#E8F3DE;"></div>
<div class="b" style="left:587px;top:606px;width:53px;height:54px;background:#E8F3DE;"></div>
<div class="b" style="left:641px;top:606px;width:53px;height:54px;background:#E8F3DE;"></div>
<div class="b" style="left:695px;top:606px;width:53px;height:54px;background:#E8F3DE;"></div>
<div class="b" style="left:749px;top:606px;width:51px;height:54px;background:#E8F3DE;"></div>
<div class="ln" style="left:38px;top:98px;width:1px;height:57px;background:#FFFADA;"></div>
<div class="ln" style="left:38px;top:155px;width:1px;height:505px;"></div>
<div class="ln" style="left:123px;top:98px;width:1px;height:57px;background:#FFFADA;"></div>
<div class="ln" style="left:123px;top:155px;width:1px;height:505px;"></div>
<div class="ln" style="left:210px;top:98px;width:1px;height:57px;background:#FFFADA;"></div>
<div class="ln" style="left:210px;top:155px;width:1px;height:505px;"></div>
<div class="ln" style="left:261px;top:125px;width:1px;height:30px;background:#FFFADA;"></div>
<div class="ln" style="left:261px;top:155px;width:1px;height:505px;"></div>
<div class="ln" style="left:323px;top:125px;width:1px;height:30px;background:#FFFADA;"></div>
<div class="ln" style="left:323px;top:155px;width:1px;height:505px;"></div>
<div class="ln" style="left:377px;top:125px;width:1px;height:30px;background:#FFFADA;"></div>
<div class="ln" style="left:377px;top:155px;width:1px;height:505px;"></div>
<div class="ln" style="left:431px;top:125px;width:1px;height:30px;background:#FFFADA;"></div>
<div class="ln" style="left:431px;top:155px;width:1px;height:505px;"></div>
<div class="ln" style="left:485px;top:98px;width:1px;height:57px;background:#FFFADA;"></div>
<div class="ln" style="left:485px;top:155px;width:1px;height:505px;"></div>
<div class="ln" style="left:530px;top:125px;width:1px;height:30px;background:#FFFADA;"></div>
<div class="ln" style="left:530px;top:155px;width:1px;height:505px;"></div>
<div class="ln" style="left:586px;top:125px;width:1px;height:30px;background:#FFFADA;"></div>
<div class="ln" style="left:586px;top:155px;width:1px;height:505px;"></div>
<div class="ln" style="left:640px;top:125px;width:1px;height:30px;background:#FFFADA;"></div>
<div class="ln" style="left:640px;top:155px;width:1px;height:505px;"></div>
<div class="ln" style="left:694px;top:125px;width:1px;height:30px;background:#FFFADA;"></div>
<div class="ln" style="left:694px;top:155px;width:1px;height:505px;"></div>
<div class="ln" style="left:748px;top:125px;width:1px;height:30px;background:#FFFADA;"></div>
<div class="ln" style="left:748px;top:155px;width:1px;height:505px;"></div>
<div class="ln" style="left:0px;top:98px;width:800px;height:1px;background:#FFFAD2;"></div>
<div class="ln" style="left:0px;top:0px;width:800px;height:1px;background:#FFFDD2;"></div>
<div class="ln" style="left:0px;top:35px;width:800px;height:1px;background:#FFFAD0;"></div>
<div class="ln" style="left:210px;top:125px;width:590px;height:1px;background:#FFFADA;"></div>
<div class="ln" style="left:0px;top:155px;width:800px;height:1px;"></div>
<div class="ln" style="left:123px;top:185px;width:677px;height:1px;"></div>
<div class="ln" style="left:123px;top:215px;width:677px;height:1px;"></div>
<div class="ln" style="left:123px;top:245px;width:677px;height:1px;"></div>
<div class="ln" style="left:123px;top:275px;width:677px;height:1px;"></div>
<div class="ln" style="left:123px;top:305px;width:677px;height:1px;"></div>
<div class="ln" style="left:123px;top:335px;width:677px;height:1px;"></div>
<div class="ln" style="left:123px;top:365px;width:677px;height:1px;"></div>
<div class="ln" style="left:123px;top:395px;width:677px;height:1px;"></div>
<div class="ln" style="left:123px;top:425px;width:677px;height:1px;"></div>
<div class="ln" style="left:123px;top:455px;width:677px;height:1px;"></div>
<div class="ln" style="left:123px;top:485px;width:677px;height:1px;"></div>
<div class="ln" style="left:123px;top:515px;width:677px;height:1px;"></div>
<div class="ln" style="left:123px;top:545px;width:677px;height:1px;"></div>
<div class="ln" style="left:123px;top:575px;width:677px;height:1px;"></div>
<div class="ln" style="left:123px;top:605px;width:677px;height:1px;"></div>
<div class="ln" style="left:0px;top:605px;width:123px;height:1px;"></div>
<div class="b" style="left:124px;top:605px;width:85px;height:51px;background:#FFFFFF;"></div>
<svg style="position:absolute;left:129px;top:608px;z-index:3" width="75" height="45" viewBox="0 0 33 33" preserveAspectRatio="none"><g fill="#151515"><rect x="0" y="0" width="7" height="1.05"/><rect x="8" y="0" width="1" height="1.05"/><rect x="11" y="0" width="2" height="1.05"/><rect x="14" y="0" width="2" height="1.05"/><rect x="18" y="0" width="3" height="1.05"/><rect x="23" y="0" width="1" height="1.05"/><rect x="26" y="0" width="7" height="1.05"/><rect x="0" y="1" width="1" height="1.05"/><rect x="6" y="1" width="1" height="1.05"/><rect x="11" y="1" width="2" height="1.05"/><rect x="14" y="1" width="6" height="1.05"/><rect x="21" y="1" width="1" height="1.05"/><rect x="23" y="1" width="1" height="1.05"/><rect x="26" y="1" width="1" height="1.05"/><rect x="32" y="1" width="1" height="1.05"/><rect x="0" y="2" width="1" height="1.05"/><rect x="2" y="2" width="3" height="1.05"/><rect x="6" y="2" width="1" height="1.05"/><rect x="8" y="2" width="2" height="1.05"/><rect x="14" y="2" width="4" height="1.05"/><rect x="19" y="2" width="1" height="1.05"/><rect x="21" y="2" width="1" height="1.05"/><rect x="24" y="2" width="1" height="1.05"/><rect x="26" y="2" width="1" height="1.05"/><rect x="28" y="2" width="3" height="1.05"/><rect x="32" y="2" width="1" height="1.05"/><rect x="0" y="3" width="1" height="1.05"/><rect x="2" y="3" width="3" height="1.05"/><rect x="6" y="3" width="1" height="1.05"/><rect x="8" y="3" width="1" height="1.05"/><rect x="10" y="3" width="1" height="1.05"/><rect x="12" y="3" width="2" height="1.05"/><rect x="16" y="3" width="3" height="1.05"/><rect x="21" y="3" width="4" height="1.05"/><rect x="26" y="3" width="1" height="1.05"/><rect x="28" y="3" width="3" height="1.05"/><rect x="32" y="3" width="1" height="1.05"/><rect x="0" y="4" width="1" height="1.05"/><rect x="2" y="4" width="3" height="1.05"/><rect x="6" y="4" width="1" height="1.05"/><rect x="9" y="4" width="1" height="1.05"/><rect x="11" y="4" width="2" height="1.05"/><rect x="14" y="4" width="1" height="1.05"/><rect x="16" y="4" width="4" height="1.05"/><rect x="22" y="4" width="1" height="1.05"/><rect x="24" y="4" width="1" height="1.05"/><rect x="26" y="4" width="1" height="1.05"/><rect x="28" y="4" width="3" height="1.05"/><rect x="32" y="4" width="1" height="1.05"/><rect x="0" y="5" width="1" height="1.05"/><rect x="6" y="5" width="1" height="1.05"/><rect x="8" y="5" width="1" height="1.05"/><rect x="11" y="5" width="1" height="1.05"/><rect x="13" y="5" width="2" height="1.05"/><rect x="16" y="5" width="4" height="1.05"/><rect x="21" y="5" width="1" height="1.05"/><rect x="23" y="5" width="2" height="1.05"/><rect x="26" y="5" width="1" height="1.05"/><rect x="32" y="5" width="1" height="1.05"/><rect x="0" y="6" width="7" height="1.05"/><rect x="9" y="6" width="1" height="1.05"/><rect x="12" y="6" width="2" height="1.05"/><rect x="16" y="6" width="2" height="1.05"/><rect x="20" y="6" width="1" height="1.05"/><rect x="24" y="6" width="1" height="1.05"/><rect x="26" y="6" width="7" height="1.05"/><rect x="8" y="7" width="2" height="1.05"/><rect x="11" y="7" width="1" height="1.05"/><rect x="13" y="7" width="1" height="1.05"/><rect x="16" y="7" width="2" height="1.05"/><rect x="19" y="7" width="2" height="1.05"/><rect x="24" y="7" width="1" height="1.05"/><rect x="1" y="8" width="7" height="1.05"/><rect x="9" y="8" width="2" height="1.05"/><rect x="16" y="8" width="3" height="1.05"/><rect x="22" y="8" width="1" height="1.05"/><rect x="24" y="8" width="1" height="1.05"/><rect x="26" y="8" width="1" height="1.05"/><rect x="28" y="8" width="1" height="1.05"/><rect x="3" y="9" width="1" height="1.05"/><rect x="7" y="9" width="1" height="1.05"/><rect x="12" y="9" width="1" height="1.05"/><rect x="15" y="9" width="1" height="1.05"/><rect x="20" y="9" width="1" height="1.05"/><rect x="23" y="9" width="1" height="1.05"/><rect x="25" y="9" width="1" height="1.05"/><rect x="27" y="9" width="1" height="1.05"/><rect x="29" y="9" width="2" height="1.05"/><rect x="32" y="9" width="1" height="1.05"/><rect x="2" y="10" width="3" height="1.05"/><rect x="6" y="10" width="2" height="1.05"/><rect x="10" y="10" width="1" height="1.05"/><rect x="12" y="10" width="1" height="1.05"/><rect x="14" y="10" width="2" height="1.05"/><rect x="19" y="10" width="1" height="1.05"/><rect x="21" y="10" width="3" height="1.05"/><rect x="28" y="10" width="5" height="1.05"/><rect x="0" y="11" width="1" height="1.05"/><rect x="2" y="11" width="2" height="1.05"/><rect x="6" y="11" width="3" height="1.05"/><rect x="10" y="11" width="1" height="1.05"/><rect x="13" y="11" width="1" height="1.05"/><rect x="15" y="11" width="4" height="1.05"/><rect x="20" y="11" width="3" height="1.05"/><rect x="24" y="11" width="1" height="1.05"/><rect x="30" y="11" width="3" height="1.05"/><rect x="0" y="12" width="2" height="1.05"/><rect x="3" y="12" width="3" height="1.05"/><rect x="10" y="12" width="1" height="1.05"/><rect x="23" y="12" width="1" height="1.05"/><rect x="26" y="12" width="2" height="1.05"/><rect x="30" y="12" width="1" height="1.05"/><rect x="2" y="13" width="1" height="1.05"/><rect x="4" y="13" width="1" height="1.05"/><rect x="9" y="13" width="1" height="1.05"/><rect x="25" y="13" width="1" height="1.05"/><rect x="28" y="13" width="3" height="1.05"/><rect x="0" y="14" width="2" height="1.05"/><rect x="3" y="14" width="1" height="1.05"/><rect x="5" y="14" width="2" height="1.05"/><rect x="8" y="14" width="3" height="1.05"/><rect x="25" y="14" width="1" height="1.05"/><rect x="27" y="14" width="2" height="1.05"/><rect x="30" y="14" width="1" height="1.05"/><rect x="3" y="15" width="2" height="1.05"/><rect x="7" y="15" width="1" height="1.05"/><rect x="22" y="15" width="1" height="1.05"/><rect x="24" y="15" width="1" height="1.05"/><rect x="26" y="15" width="1" height="1.05"/><rect x="28" y="15" width="2" height="1.05"/><rect x="32" y="15" width="1" height="1.05"/><rect x="1" y="16" width="1" height="1.05"/><rect x="3" y="16" width="1" height="1.05"/><rect x="6" y="16" width="4" height="1.05"/><rect x="22" y="16" width="3" height="1.05"/><rect x="27" y="16" width="1" height="1.05"/><rect x="29" y="16" width="3" height="1.05"/><rect x="0" y="17" width="2" height="1.05"/><rect x="3" y="17" width="1" height="1.05"/><rect x="5" y="17" width="4" height="1.05"/><rect x="10" y="17" width="2" height="1.05"/><rect x="22" y="17" width="1" height="1.05"/><rect x="24" y="17" width="2" height="1.05"/><rect x="32" y="17" width="1" height="1.05"/><rect x="3" y="18" width="2" height="1.05"/><rect x="6" y="18" width="1" height="1.05"/><rect x="9" y="18" width="2" height="1.05"/><rect x="22" y="18" width="2" height="1.05"/><rect x="25" y="18" width="1" height="1.05"/><rect x="27" y="18" width="2" height="1.05"/><rect x="30" y="18" width="2" height="1.05"/><rect x="2" y="19" width="2" height="1.05"/><rect x="5" y="19" width="1" height="1.05"/><rect x="7" y="19" width="4" height="1.05"/><rect x="22" y="19" width="1" height="1.05"/><rect x="24" y="19" width="3" height="1.05"/><rect x="30" y="19" width="2" height="1.05"/><rect x="0" y="20" width="1" height="1.05"/><rect x="2" y="20" width="4" height="1.05"/><rect x="7" y="20" width="1" height="1.05"/><rect x="10" y="20" width="2" height="1.05"/><rect x="23" y="20" width="5" height="1.05"/><rect x="0" y="21" width="1" height="1.05"/><rect x="2" y="21" width="1" height="1.05"/><rect x="5" y="21" width="1" height="1.05"/><rect x="10" y="21" width="1" height="1.05"/><rect x="16" y="21" width="1" height="1.05"/><rect x="18" y="21" width="5" height="1.05"/><rect x="25" y="21" width="1" height="1.05"/><rect x="28" y="21" width="1" height="1.05"/><rect x="32" y="21" width="1" height="1.05"/><rect x="5" y="22" width="1" height="1.05"/><rect x="8" y="22" width="7" height="1.05"/><rect x="17" y="22" width="1" height="1.05"/><rect x="23" y="22" width="1" height="1.05"/><rect x="26" y="22" width="1" height="1.05"/><rect x="28" y="22" width="4" height="1.05"/><rect x="0" y="23" width="1" height="1.05"/><rect x="2" y="23" width="1" height="1.05"/><rect x="5" y="23" width="2" height="1.05"/><rect x="9" y="23" width="1" height="1.05"/><rect x="11" y="23" width="5" height="1.05"/><rect x="17" y="23" width="1" height="1.05"/><rect x="20" y="23" width="1" height="1.05"/><rect x="23" y="23" width="1" height="1.05"/><rect x="25" y="23" width="2" height="1.05"/><rect x="28" y="23" width="1" height="1.05"/><rect x="32" y="23" width="1" height="1.05"/><rect x="3" y="24" width="1" height="1.05"/><rect x="5" y="24" width="3" height="1.05"/><rect x="9" y="24" width="2" height="1.05"/><rect x="12" y="24" width="2" height="1.05"/><rect x="15" y="24" width="1" height="1.05"/><rect x="21" y="24" width="2" height="1.05"/><rect x="26" y="24" width="2" height="1.05"/><rect x="8" y="25" width="2" height="1.05"/><rect x="13" y="25" width="4" height="1.05"/><rect x="18" y="25" width="1" height="1.05"/><rect x="20" y="25" width="2" height="1.05"/><rect x="25" y="25" width="4" height="1.05"/><rect x="31" y="25" width="2" height="1.05"/><rect x="0" y="26" width="7" height="1.05"/><rect x="11" y="26" width="3" height="1.05"/><rect x="15" y="26" width="1" height="1.05"/><rect x="18" y="26" width="1" height="1.05"/><rect x="22" y="26" width="3" height="1.05"/><rect x="26" y="26" width="2" height="1.05"/><rect x="29" y="26" width="1" height="1.05"/><rect x="31" y="26" width="1" height="1.05"/><rect x="0" y="27" width="1" height="1.05"/><rect x="6" y="27" width="1" height="1.05"/><rect x="8" y="27" width="2" height="1.05"/><rect x="11" y="27" width="2" height="1.05"/><rect x="15" y="27" width="3" height="1.05"/><rect x="19" y="27" width="2" height="1.05"/><rect x="26" y="27" width="1" height="1.05"/><rect x="28" y="27" width="3" height="1.05"/><rect x="0" y="28" width="1" height="1.05"/><rect x="2" y="28" width="3" height="1.05"/><rect x="6" y="28" width="1" height="1.05"/><rect x="8" y="28" width="7" height="1.05"/><rect x="20" y="28" width="1" height="1.05"/><rect x="23" y="28" width="3" height="1.05"/><rect x="31" y="28" width="1" height="1.05"/><rect x="0" y="29" width="1" height="1.05"/><rect x="2" y="29" width="3" height="1.05"/><rect x="6" y="29" width="1" height="1.05"/><rect x="9" y="29" width="2" height="1.05"/><rect x="13" y="29" width="1" height="1.05"/><rect x="15" y="29" width="1" height="1.05"/><rect x="18" y="29" width="2" height="1.05"/><rect x="23" y="29" width="2" height="1.05"/><rect x="27" y="29" width="1" height="1.05"/><rect x="32" y="29" width="1" height="1.05"/><rect x="0" y="30" width="1" height="1.05"/><rect x="2" y="30" width="3" height="1.05"/><rect x="6" y="30" width="1" height="1.05"/><rect x="19" y="30" width="3" height="1.05"/><rect x="24" y="30" width="5" height="1.05"/><rect x="30" y="30" width="3" height="1.05"/><rect x="0" y="31" width="1" height="1.05"/><rect x="6" y="31" width="1" height="1.05"/><rect x="10" y="31" width="3" height="1.05"/><rect x="15" y="31" width="5" height="1.05"/><rect x="22" y="31" width="4" height="1.05"/><rect x="27" y="31" width="1" height="1.05"/><rect x="30" y="31" width="2" height="1.05"/><rect x="0" y="32" width="7" height="1.05"/><rect x="9" y="32" width="1" height="1.05"/><rect x="12" y="32" width="3" height="1.05"/><rect x="17" y="32" width="1" height="1.05"/><rect x="19" y="32" width="2" height="1.05"/><rect x="23" y="32" width="4" height="1.05"/><rect x="30" y="32" width="3" height="1.05"/></g></svg><svg style="position:absolute;left:150px;top:618px;z-index:4" width="35" height="27" viewBox="0 0 35 27"><rect x="7" y="6" width="20" height="13" fill="#fff"/><path d="M9.5 12 Q11 8.5 16 9.5 Q20 10.5 21 13 Q18 17.5 14 17.5 Q10.5 16.5 9.5 12Z" fill="#3f9a3a"/><path d="M16.5 15.5 Q19.5 12 23.5 11.5 Q24 15 21 16.8 Q18.5 18 16.5 17Z" fill="#d7cf2e"/><path d="M13.5 11.2 L17 15.5 L20 11.8 L17 13.6Z" fill="#f4fbef"/></svg>
<div class="t qrt" style="left:217px;top:616px;line-height:16px;text-align:left;"><span class="c">扫</span><span class="c">描</span><span class="c">二</span><span class="c">维</span><span class="c">码</span><span class="c">关</span><span class="c">注</span><span class="c">珠</span><span class="c">海</span><span class="c">优</span><span class="c">生</span><span class="c">之</span><span class="c">路</span><br><span class="c">查</span><span class="c">看</span><span class="c">更</span><span class="c">多</span><span class="c">资</span><span class="c">讯</span><span class="c">服</span><span class="c">务</span></div>
<div class="wm"><span class="c">珠</span><span class="c">海</span><span class="c">优</span><span class="c">生</span><span class="c">之</span><span class="c">路</span><span class="c">公</span><span class="c">众</span><span class="c">号</span></div>
</body></html>
